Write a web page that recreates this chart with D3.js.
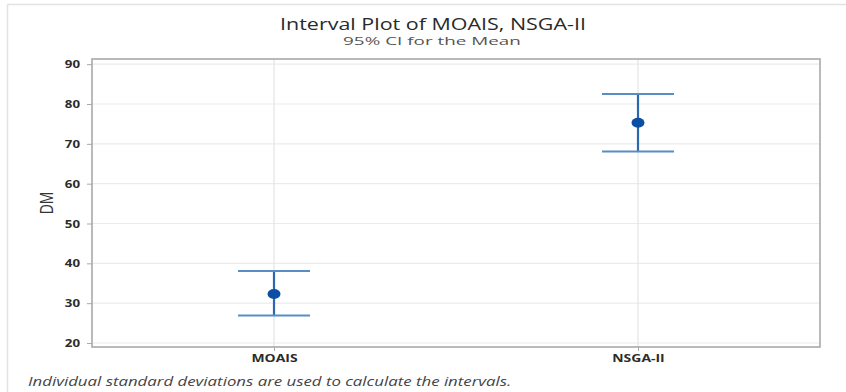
<!DOCTYPE html>
<html>
<head>
<meta charset="utf-8">
<script src="https://cdn.jsdelivr.net/npm/d3@7"></script>
<style>
  html, body { margin: 0; padding: 0; background: #fff; }
  svg { display: block; }
  text { font-family: "Open Sans", "Noto Sans", sans-serif; }
</style>
</head>
<body>
<svg id="chart" width="846" height="392"></svg>
<script>
// Interval plot data: mean and 95% CI bounds for each algorithm
const categories = ["MOAIS", "NSGA-II"];
const means = [32.3, 75.3];
const lowerCI = [26.9, 68.1];
const upperCI = [38.1, 82.5];
const yTicks = [20, 30, 40, 50, 60, 70, 80, 90];

const svg = d3.select("#chart");
const W = 846, H = 392;
const plot = { left: 92, right: 820, top: 59, bottom: 347 };
const widen = 1.33; // horizontal stretch applied to lettering

// Widen a text element horizontally about its own x anchor
function widenBy(sel, factor) {
  sel.each(function () {
    const ax = +(this.getAttribute("x") || 0);
    d3.select(this).attr("transform",
      `translate(${ax},0) scale(${factor},1) translate(${-ax},0)`);
  });
}
function widenTo(sel, width) {
  sel.each(function () {
    const w = this.getComputedTextLength();
    d3.select(this).call(widenBy, width / w);
  });
}

// Outer figure frame
svg.append("rect")
  .attr("x", 7.5).attr("y", 4.5)
  .attr("width", W).attr("height", H)
  .attr("fill", "none").attr("stroke", "#e2e2e2").attr("stroke-width", 1.5);

const x = d3.scalePoint().domain(categories)
  .range([plot.left, plot.right]).padding(0.5);
const y = d3.scaleLinear().domain([19.0, 91.3])
  .range([plot.bottom, plot.top]);

// Gridlines
const grid = svg.append("g");
grid.selectAll("line.h").data(yTicks).join("line")
  .attr("class", "h")
  .attr("x1", plot.left).attr("x2", plot.right)
  .attr("y1", d => y(d)).attr("y2", d => y(d))
  .attr("stroke", "#ebebeb").attr("stroke-width", 1.2);
grid.selectAll("line.v").data(categories).join("line")
  .attr("class", "v")
  .attr("x1", d => x(d)).attr("x2", d => x(d))
  .attr("y1", plot.top).attr("y2", plot.bottom)
  .attr("stroke", "#e2e4e8").attr("stroke-width", 1.2);

// Plot frame
svg.append("rect")
  .attr("x", plot.left).attr("y", plot.top)
  .attr("width", plot.right - plot.left).attr("height", plot.bottom - plot.top)
  .attr("fill", "none").attr("stroke", "#a9a9a9").attr("stroke-width", 1.6);

// Axes
const yAxis = svg.append("g")
  .attr("transform", `translate(${plot.left},0)`)
  .call(d3.axisLeft(y).tickValues(yTicks).tickSize(5).tickPadding(7));
const xAxis = svg.append("g")
  .attr("transform", `translate(0,${plot.bottom})`)
  .call(d3.axisBottom(x).tickSize(4).tickPadding(4));
[yAxis, xAxis].forEach(a => {
  a.select(".domain").remove();
  a.selectAll(".tick line").attr("stroke", "#a9a9a9");
  a.selectAll(".tick text")
    .attr("fill", "#2b2b2b")
    .style("font-family", "\"Open Sans\", sans-serif")
    .style("font-weight", "700");
});
yAxis.selectAll(".tick text").style("font-size", "10px").attr("dy", "0.36em").call(widenBy, widen);
xAxis.selectAll(".tick text").style("font-size", "10.5px").call(widenBy, widen);

// Intervals
const idx = d3.range(categories.length);
const capHalf = 36;
const marks = svg.append("g");
marks.selectAll("line.stem").data(idx).join("line")
  .attr("class", "stem")
  .attr("x1", i => x(categories[i])).attr("x2", i => x(categories[i]))
  .attr("y1", i => y(lowerCI[i])).attr("y2", i => y(upperCI[i]))
  .attr("stroke", "#2d68ad").attr("stroke-width", 2.2);
marks.selectAll("line.capU").data(idx).join("line")
  .attr("class", "capU")
  .attr("x1", i => x(categories[i]) - capHalf).attr("x2", i => x(categories[i]) + capHalf)
  .attr("y1", i => y(upperCI[i])).attr("y2", i => y(upperCI[i]))
  .attr("stroke", "#5a8cc4").attr("stroke-width", 2);
marks.selectAll("line.capL").data(idx).join("line")
  .attr("class", "capL")
  .attr("x1", i => x(categories[i]) - capHalf).attr("x2", i => x(categories[i]) + capHalf)
  .attr("y1", i => y(lowerCI[i])).attr("y2", i => y(lowerCI[i]))
  .attr("stroke", "#5a8cc4").attr("stroke-width", 2);
marks.selectAll("ellipse.mean").data(idx).join("ellipse")
  .attr("class", "mean")
  .attr("cx", i => x(categories[i])).attr("cy", i => y(means[i]))
  .attr("rx", 6.5).attr("ry", 4.9)
  .attr("fill", "#0a4fa3");

// Titles
svg.append("text")
  .attr("x", 433).attr("y", 30)
  .attr("text-anchor", "middle")
  .attr("fill", "#2a2a2a")
  .style("font-size", "16px")
  .style("font-weight", "500")
  .text("Interval Plot of MOAIS, NSGA-II")
  .call(widenTo, 306);
svg.append("text")
  .attr("x", 432).attr("y", 45.3)
  .attr("text-anchor", "middle")
  .attr("fill", "#555")
  .style("font-size", "10.5px")
  .text("95% CI for the Mean")
  .call(widenTo, 178);

// Y axis label
svg.append("text")
  .attr("transform", `translate(53,${(plot.top + plot.bottom) / 2}) scale(${widen},1) rotate(-90)`)
  .attr("text-anchor", "middle")
  .attr("fill", "#333")
  .style("font-size", "14px")
  .text("DM");

// Footnote
svg.append("text")
  .attr("x", 28).attr("y", 386.5)
  .attr("fill", "#444")
  .style("font-size", "13px")
  .style("font-style", "italic")
  .text("Individual standard deviations are used to calculate the intervals.")
  .call(widenTo, 484);
</script>
</body>
</html>
